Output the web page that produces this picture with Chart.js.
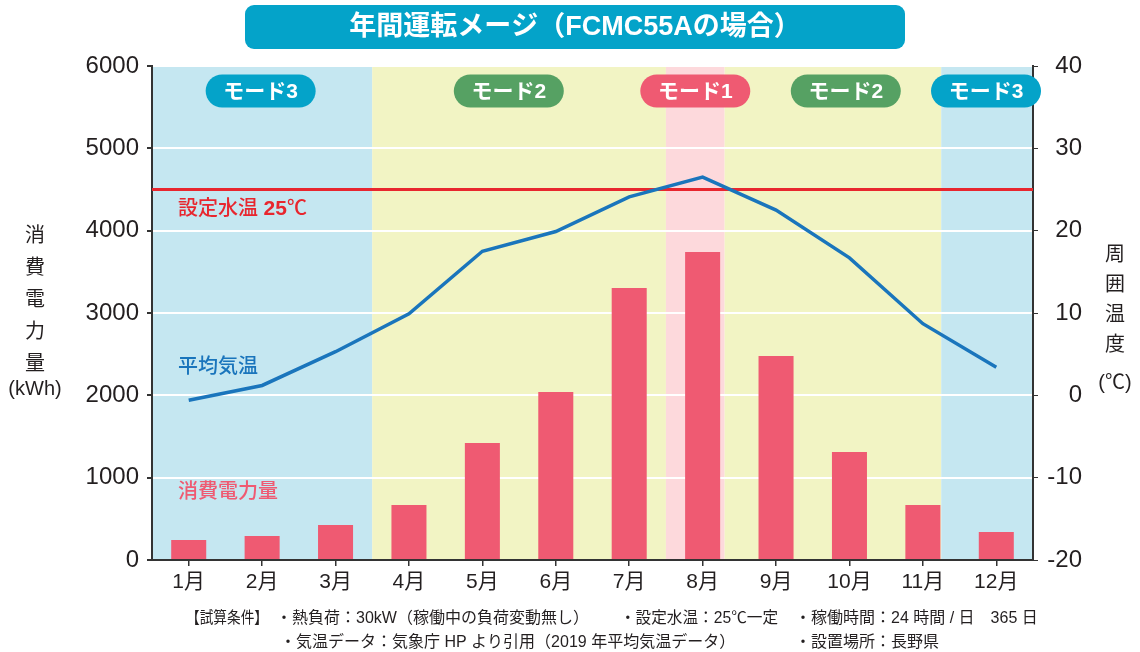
<!DOCTYPE html>
<html lang="ja">
<head>
<meta charset="utf-8">
<title>年間運転メージ（FCMC55Aの場合）</title>
<script src="https://cdn.jsdelivr.net/npm/chart.js@4.4.0/dist/chart.umd.min.js"></script>
<style>
	html, body { margin: 0; padding: 0; background: #fff; }
	#grafico { display: block; }
</style>
</head>
<body>
<canvas id="grafico" width="1140" height="652"></canvas>
<script>
// dados do grafico
const meses = ['1月', '2月', '3月', '4月', '5月', '6月', '7月', '8月', '9月', '10月', '11月', '12月'];
const consumo = [243, 291, 425, 668, 1421, 2040, 3304, 3741, 2478, 1312, 668, 340];       // kWh
const temperatura = [-0.6, 1.2, 5.3, 9.9, 17.5, 19.9, 24.1, 26.5, 22.5, 16.7, 8.7, 3.4]; // ℃
const temperaturaAgua = 25;

// faixas de modo (em indices de categoria)
const faixasInicio = [-0.5, 2.5, 6.5, 7.3, 10.25];
const faixasFim = [2.5, 6.5, 7.3, 10.25, 11.5];
const faixasCor = ['#c5e7f1', '#f2f4c4', '#fdd9dc', '#f2f4c4', '#c5e7f1'];

const modosTexto = ['モード3', 'モード2', 'モード1', 'モード2', 'モード3'];
const modosPosicao = [0.98, 4.36, 6.9, 8.95, 10.86];
const modosCor = ['#04a3c9', '#56a163', '#ef5a72', '#56a163', '#04a3c9'];

const FONTE = '"Liberation Sans", "Noto Sans CJK JP", sans-serif';
const TEXTO = '#231f20';

function posicaoX(escala, indice) {
	const p0 = escala.getPixelForValue(0);
	const p1 = escala.getPixelForValue(1);
	return p0 + (p1 - p0) * indice;
}

function textoVertical(ctx, letras, x, y0, passo) {
	ctx.font = '20px ' + FONTE;
	ctx.fillStyle = TEXTO;
	ctx.textAlign = 'center';
	ctx.textBaseline = 'middle';
	letras.forEach((l, i) => {
		ctx.fillText(l, x, y0 + i * passo);
	});
}

const desenhoExtra = {
	id: 'desenhoExtra',
	beforeDraw(chart) {
		const ctx = chart.ctx;
		const area = chart.chartArea;
		const x = chart.scales.x;
		ctx.save();
		for (let i = 0; i < faixasInicio.length; i++) {
			const a = posicaoX(x, faixasInicio[i]);
			const b = posicaoX(x, faixasFim[i]);
			ctx.fillStyle = faixasCor[i];
			ctx.fillRect(a, area.top, b - a, area.bottom - area.top);
		}
		ctx.restore();
	},
	beforeDatasetsDraw(chart) {
		const ctx = chart.ctx;
		const area = chart.chartArea;
		const y = chart.scales.y1.getPixelForValue(temperaturaAgua);
		ctx.save();
		ctx.strokeStyle = '#e8262e';
		ctx.lineWidth = 3;
		ctx.beginPath();
		ctx.moveTo(area.left, y);
		ctx.lineTo(area.right, y);
		ctx.stroke();
		ctx.restore();
	},
	afterDraw(chart) {
		const ctx = chart.ctx;
		const area = chart.chartArea;
		const x = chart.scales.x;
		ctx.save();

		// titulo
		ctx.fillStyle = '#04a3c9';
		ctx.beginPath();
		ctx.roundRect(245, 5, 660, 44, 9);
		ctx.fill();
		ctx.fillStyle = '#fff';
		ctx.font = 'bold 27px ' + FONTE;
		ctx.textAlign = 'center';
		ctx.textBaseline = 'middle';
		ctx.fillText('年間運転メージ（FCMC55Aの場合）', 575, 28);

		// etiquetas de modo
		for (let i = 0; i < modosTexto.length; i++) {
			const cx = posicaoX(x, modosPosicao[i]);
			const cy = area.top + 25;
			ctx.fillStyle = modosCor[i];
			ctx.beginPath();
			ctx.roundRect(cx - 55, cy - 16.5, 110, 33, 16.5);
			ctx.fill();
			ctx.fillStyle = '#fff';
			ctx.font = 'bold 21px ' + FONTE;
			ctx.fillText(modosTexto[i], cx, cy + 1);
		}

		// textos dentro do grafico
		ctx.textAlign = 'left';
		ctx.fillStyle = '#e8262e';
		ctx.font = '500 20px ' + FONTE;
		ctx.fillText('設定水温 ', 178, 209);
		let w = ctx.measureText('設定水温 ').width;
		ctx.font = 'bold 21px ' + FONTE;
		ctx.fillText('25', 178 + w, 209);
		w += ctx.measureText('25').width;
		ctx.font = '500 20px ' + FONTE;
		ctx.fillText('℃', 178 + w, 209);

		ctx.fillStyle = '#1a75bc';
		ctx.fillText('平均気温', 178, 367);
		ctx.fillStyle = '#ef5a72';
		ctx.fillText('消費電力量', 178, 492);

		// titulos dos eixos
		textoVertical(ctx, ['消', '費', '電', '力', '量'], 35, 236, 32);
		ctx.fillText('(kWh)', 35, 389);
		textoVertical(ctx, ['周', '囲', '温', '度'], 1115, 255, 30);
		ctx.fillText('(℃)', 1115, 383);

		// condicoes
		ctx.font = '16px ' + FONTE;
		ctx.fillStyle = TEXTO;
		ctx.textAlign = 'left';
		ctx.fillText('【試算条件】', 186, 619, 82);
		ctx.fillText('・熱負荷：30kW（稼働中の負荷変動無し）', 276, 619, 336);
		ctx.fillText('・設定水温：25℃一定', 620, 619, 158);
		ctx.fillText('・稼働時間：24 時間 / 日　365 日', 795, 619, 246);
		ctx.fillText('・気温データ：気象庁 HP より引用（2019 年平均気温データ）', 280, 643, 458);
		ctx.fillText('・設置場所：長野県', 795, 643, 145);

		ctx.restore();
	}
};

function plotarGrafico(idGrafico) {
	const ctx = document.getElementById(idGrafico).getContext('2d');
	return new Chart(ctx, {
		type: 'bar',
		data: {
			labels: meses,
			datasets: [{
				label: '平均気温',
				type: 'line',
				data: temperatura,
				yAxisID: 'y1',
				borderColor: '#1a75bc',
				borderWidth: 3.5,
				pointRadius: 0,
				tension: 0,
				order: 0
			}, {
				label: '消費電力量',
				data: consumo,
				yAxisID: 'y',
				backgroundColor: '#ef5a72',
				barPercentage: 0.477,
				categoryPercentage: 1,
				order: 1
			}]
		},
		options: {
			responsive: false,
			animation: false,
			devicePixelRatio: 1,
			layout: { padding: { top: 66, right: 58, bottom: 52, left: 0 } },
			plugins: {
				legend: { display: false },
				tooltip: { enabled: false }
			},
			scales: {
				x: {
					offset: true,
					grid: { offset: false, drawOnChartArea: false, tickLength: 6, tickColor: '#333', lineWidth: 1.5 },
					border: { color: '#333', width: 2 },
					ticks: { color: TEXTO, font: { family: FONTE, size: 21 }, padding: 4, maxRotation: 0 },
					afterFit: function (s) { s.height = 40; }
				},
				y: {
					position: 'left',
					min: 0,
					max: 6000,
					ticks: {
						stepSize: 1000, color: TEXTO, font: { family: FONTE, size: 24 }, padding: 8,
						callback: function (v) { return String(v); }
					},
					grid: { color: '#ffffff', lineWidth: 2, tickColor: '#333', tickLength: 5 },
					border: { color: '#333', width: 2 },
					afterFit: function (s) { s.width = 152; }
				},
				y1: {
					position: 'right',
					min: -20,
					max: 40,
					ticks: {
						stepSize: 10, color: TEXTO, font: { family: FONTE, size: 24 }, padding: 8, crossAlign: 'far',
						callback: function (v) { return String(v); }
					},
					grid: { drawOnChartArea: false, tickColor: '#333', tickLength: 5 },
					border: { color: '#333', width: 2 },
					afterFit: function (s) { s.width = 49; }
				}
			}
		},
		plugins: [desenhoExtra]
	});
}

plotarGrafico('grafico');
</script>
</body>
</html>
